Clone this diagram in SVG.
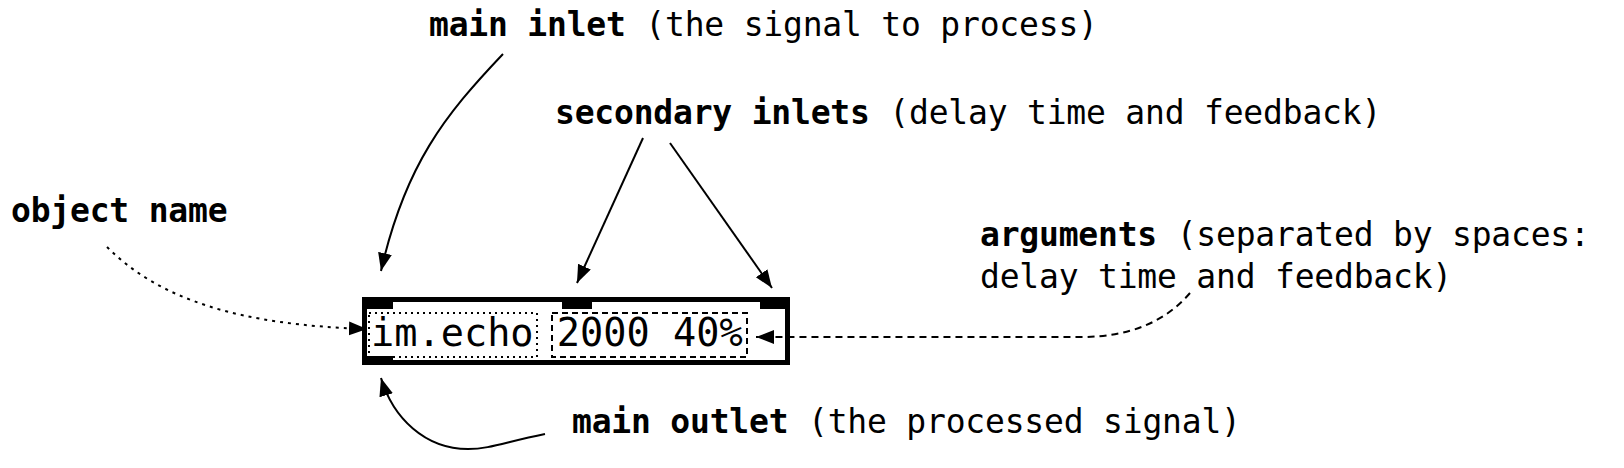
<svg xmlns="http://www.w3.org/2000/svg" width="1624" height="468" viewBox="0 0 1624 468">
<style>
.lbl{font-family:"DejaVu Sans Mono","Liberation Mono",monospace;font-size:33px;letter-spacing:-0.2px;fill:#000}
.b{font-weight:bold}
.obj{font-family:"DejaVu Sans Mono","Liberation Mono",monospace;font-size:38.6px;fill:#000}
.con{fill:none;stroke:#000;stroke-width:2}
.dot{stroke-dasharray:3 5}
.dash{stroke-dasharray:7 5}
</style>
<defs>
<marker id="ah" markerUnits="userSpaceOnUse" markerWidth="20" markerHeight="16" refX="18" refY="7" orient="auto">
<path d="M0,0 L18,7 L0,14 z" fill="#000"/>
</marker>
</defs>
<rect width="1624" height="468" fill="#fff"/>
<g id="object">
<rect x="364.5" y="299.5" width="423" height="63" fill="#fff" stroke="#000" stroke-width="5"/>
<rect x="362" y="297" width="31" height="12" fill="#000"/>
<rect x="562" y="297" width="30" height="12" fill="#000"/>
<rect x="760" y="297" width="30" height="12" fill="#000"/>
<rect x="362" y="356" width="31" height="9" fill="#000"/>
<rect x="369" y="313" width="168" height="44" fill="none" stroke="#000" stroke-width="2" stroke-dasharray="2 4"/>
<rect x="552" y="313" width="195" height="44" fill="none" stroke="#000" stroke-width="2" stroke-dasharray="6 4"/>
<text class="obj" x="371" y="346">im.echo 2000 40%</text>
</g>
<g id="label-main-inlet"><text class="lbl" x="429" y="36"><tspan class="b">main inlet</tspan> (the signal to process)</text></g>
<g id="label-secondary-inlets"><text class="lbl" x="555" y="124"><tspan class="b">secondary inlets</tspan> (delay time and feedback)</text></g>
<g id="label-object-name"><text class="lbl" x="11" y="222"><tspan class="b">object name</tspan></text></g>
<g id="label-arguments"><text class="lbl" x="980" y="246"><tspan class="b">arguments</tspan> (separated by spaces:</text><text class="lbl" x="980" y="288">delay time and feedback)</text></g>
<g id="label-main-outlet"><text class="lbl" x="572" y="433"><tspan class="b">main outlet</tspan> (the processed signal)</text></g>
<g id="connectors">
<path class="con" d="M503,54 C445,115 405,165 381,271" marker-end="url(#ah)"/>
<path class="con" d="M643,138 L577,283" marker-end="url(#ah)"/>
<path class="con" d="M670,143 L772,288" marker-end="url(#ah)"/>
<path class="con dot" d="M107,247 C160,300 240,325 367,329" marker-end="url(#ah)"/>
<path class="con dash" d="M1190,293 C1165,322 1130,337 1080,337 L756,337" marker-end="url(#ah)"/>
<path class="con" d="M545,434 C505,442 490,449 468,449 C425,449 393,418 381,378" marker-end="url(#ah)"/>
</g>
</svg>
